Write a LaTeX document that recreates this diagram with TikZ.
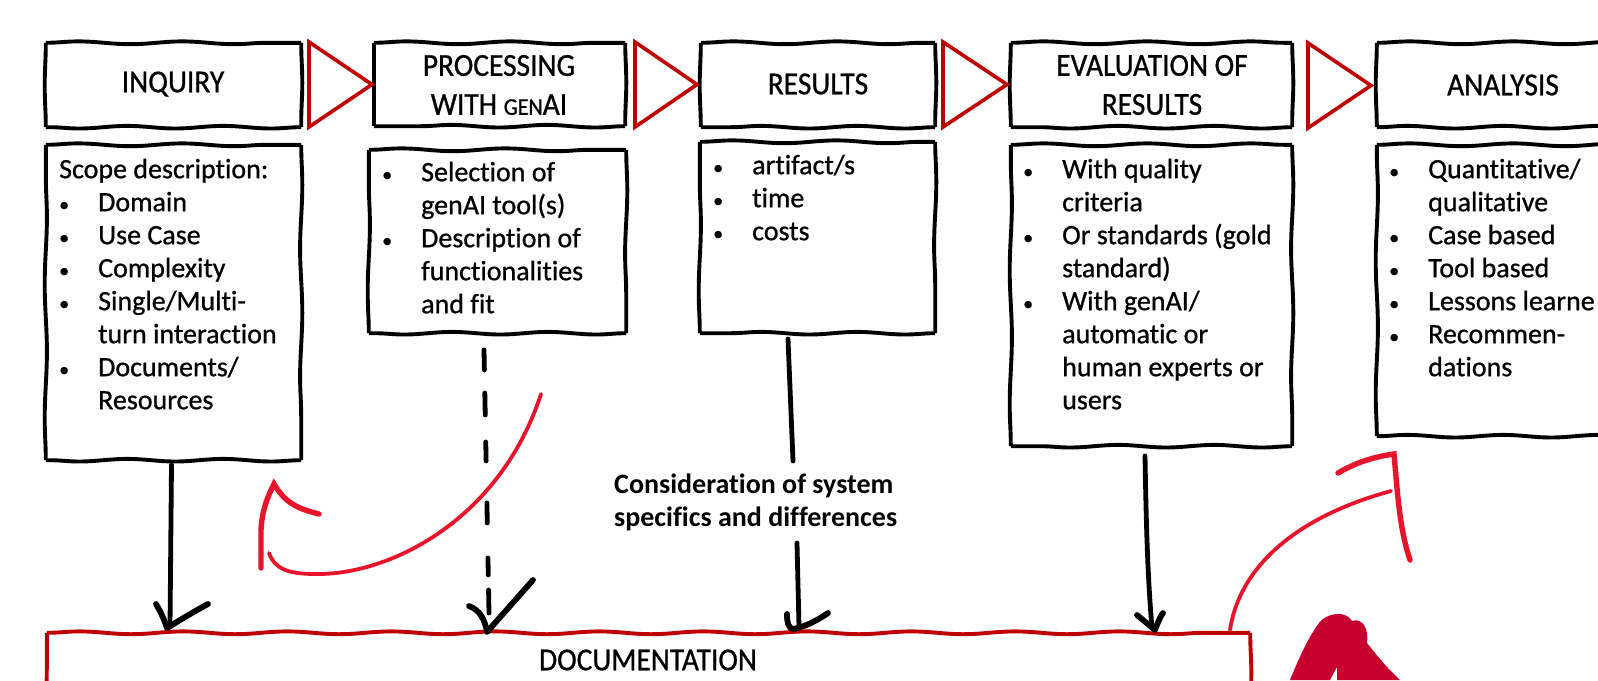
\documentclass[tikz,border=0pt]{standalone}
\usepackage{fontspec}
\usetikzlibrary{decorations.pathmorphing}
\setmainfont[FakeStretch=1.0,FakeBold=0.8,Ligatures=NoCommon]{Carlito}
\newfontfamily\headhand[FakeStretch=0.92,FakeBold=0.8,Ligatures=NoCommon]{Carlito}
\newfontfamily\boldhand[FakeStretch=1.0,Ligatures=NoCommon]{Carlito}
\definecolor{boxred}{HTML}{C00000}
\definecolor{curvered}{HTML}{E8142C}
\definecolor{blobred}{HTML}{C8002F}
\newcommand{\ft}{\rule{0pt}{20pt}}
\newcommand{\bl}[1]{\ft\makebox[39pt][l]{{\fontsize{20}{33}\selectfont •}}#1}
\newcommand{\cn}[1]{\ft\hspace*{39pt}#1}
\newcommand{\sketchbox}[2][black]{%
  \draw[sketchside,draw=#1,decoration={snake,segment length=104pt,amplitude=1.4pt}] (#2.north west) -- (#2.north east);
  \draw[sketchside,draw=#1,decoration={snake,segment length=128pt,amplitude=1.1pt}] (#2.north east) -- (#2.south east);
  \draw[sketchside,draw=#1,decoration={snake,segment length=96pt,amplitude=1.3pt}] (#2.south east) -- (#2.south west);
  \draw[sketchside,draw=#1,decoration={snake,segment length=134pt,amplitude=1.1pt}] (#2.south west) -- (#2.north west);}
\tikzset{x=1pt,y=-1pt,
  sketchside/.style={line width=3.9pt,line cap=square,decorate},
  head/.style={font=\headhand\fontsize{32}{39}\selectfont,align=center,text=black},
  body/.style={font=\fontsize{28}{33}\selectfont,align=left,anchor=north west,inner sep=0pt,text=black},
  tri/.style={draw=boxred,line width=3.6pt,miter limit=20,fill=white},
  flow/.style={line width=4.8pt,line cap=round,line join=round,draw=black},
  flowhead/.style={line width=5.8pt,line cap=round,line join=round,draw=black},
  backcurve/.style={line width=3.8pt,line cap=round,draw=curvered},
  backhead/.style={line width=5.4pt,line cap=round,line join=miter,draw=curvered}}
\begin{document}
\begin{tikzpicture}
\useasboundingbox (0,0) rectangle (1598,680);
% header boxes
\node[inner sep=0pt,minimum width=255pt,minimum height=84pt] (h1) at (173.5,85) {};
\node[inner sep=0pt,minimum width=251pt,minimum height=83pt] (h2) at (499.5,84.5) {};
\node[inner sep=0pt,minimum width=234pt,minimum height=84pt] (h3) at (818,85) {};
\node[inner sep=0pt,minimum width=281pt,minimum height=84pt] (h4) at (1151.5,85) {};
\node[inner sep=0pt,minimum width=300pt,minimum height=84pt] (h5) at (1527,85) {};
% detail boxes
\node[inner sep=0pt,minimum width=255pt,minimum height=315pt] (d1) at (173.5,302.5) {};
\node[inner sep=0pt,minimum width=257pt,minimum height=183pt] (d2) at (497.5,241.5) {};
\node[inner sep=0pt,minimum width=235pt,minimum height=191pt] (d3) at (817.5,237.5) {};
\node[inner sep=0pt,minimum width=281pt,minimum height=301pt] (d4) at (1151.5,295.5) {};
\node[inner sep=0pt,minimum width=300pt,minimum height=291pt] (d5) at (1527,290.5) {};
% documentation box
\node[inner sep=0pt,minimum width=1203pt,minimum height=120pt] (doc) at (648.5,693) {};
\foreach \n in {h1,h2,h3,h4,h5,d1,d2,d3,d4,d5} {\sketchbox{\n}}
\sketchbox[boxred]{doc}
% triangles
\path[tri] (309,42) -- (372,84.5) -- (309,127) -- cycle;
\path[tri] (635,42) -- (697,84.5) -- (635,127) -- cycle;
\path[tri] (943,42) -- (1007,84.5) -- (943,127) -- cycle;
\path[tri] (1308,43) -- (1371,85.5) -- (1308,128) -- cycle;
% header labels
\node[head] (t1) at (173,84) {INQUIRY};
\node[head] (t2) at (499,85) {PROCESSING\\WITH {\fontsize{24}{39}\selectfont GEN}AI};
\node[head] (t3) at (818,84) {RESULTS};
\node[head] (t4) at (1152,85) {EVALUATION OF\\RESULTS};
\node[head] (t5) at (1503,85) {ANALYSIS};
\node[head] (t6) at (648,660) {DOCUMENTATION};
% detail text
\node[body] (b1) at (59,158) {\ft Scope description:\\\bl{Domain}\\\bl{Use Case}\\\bl{Complexity}\\\bl{Single/Multi-}\\\cn{turn interaction}\\\bl{Documents/}\\\cn{Resources}};
\node[body] (b2) at (382,161) {\bl{Selection of}\\\cn{genAI tool(s)}\\\bl{Description of}\\\cn{functionalities}\\\cn{and fit}};
\node[body] (b3) at (713,154) {\bl{artifact/s}\\\bl{time}\\\bl{costs}};
\node[body] (b4) at (1023,158) {\bl{With quality}\\\cn{criteria}\\\bl{Or standards (gold}\\\cn{standard)}\\\bl{With genAI/}\\\cn{automatic or}\\\cn{human experts or}\\\cn{users}};
\node[body] (b5) at (1389,158) {\bl{Quantitative/}\\\cn{qualitative}\\\bl{Case based}\\\bl{Tool based}\\\bl{Lessons learne}\\\bl{Recommen-}\\\cn{dations}};
\node[body,font=\boldhand\bfseries\fontsize{28}{33}\selectfont] (cons) at (614,473) {\ft Consideration of system\\\ft specifics and differences};
% connector end points
\coordinate (a1s) at (171.5,465); \coordinate (a1e) at (170,627);
\coordinate (a1l) at (156,604); \coordinate (a1r) at (208,604);
\coordinate (a2s) at (484,350); \coordinate (a2e) at (489,613);
\coordinate (a2t) at (487,632); \coordinate (a2l) at (469,606); \coordinate (a2r) at (533,580);
\coordinate (a3s) at (788,339); \coordinate (a3m) at (793,461);
\coordinate (a3n) at (797,543); \coordinate (a3e) at (799,627);
\coordinate (a3l) at (787,614); \coordinate (a3t) at (793,629); \coordinate (a3r) at (828,613);
\coordinate (a4s) at (1145,456); \coordinate (a4e) at (1152,628);
\coordinate (a4l) at (1137,615); \coordinate (a4t) at (1155,630); \coordinate (a4r) at (1163,613);
% flow arrows
\draw[flow] (a1s) -- (a1e);
\draw[flowhead] (a1l) .. controls (162,614) and (165,622) .. (167,628) .. controls (180,620) and (195,611) .. (a1r);
\draw[flow,dash pattern=on 20pt off 23pt on 22pt off 27pt on 19pt off 42pt on 20pt off 35pt on 17pt off 15pt on 30pt off 100pt] (a2s) -- (a2e);
\draw[flowhead] (a2l) .. controls (480,610) and (485,620) .. (a2t) -- (a2r);
\draw[flow] (a3s) -- (a3m);
\draw[flow] (a3n) -- (a3e);
\draw[flowhead] (a3l) .. controls (787,622) and (788,628) .. (a3t) .. controls (805,627) and (818,620) .. (a3r);
\draw[flow] (a4s) .. controls (1146,510) and (1147,570) .. (a4e);
\draw[flowhead] (a4l) -- (a4t) .. controls (1158,622) and (1160,617) .. (a4r);
% red loop arrows
\coordinate (r1s) at (541,394); \coordinate (r1e) at (269,553);
\draw[backcurve] (r1s) .. controls (500,520) and (390,575) .. (316,574) .. controls (290,574) and (275,570) .. (r1e);
\coordinate (r1a) at (261,568); \coordinate (r1b) at (274,484); \coordinate (r1c) at (319,514);
\draw[backhead] (r1a) -- (261,530) .. controls (262,512) and (266,500) .. (r1b) .. controls (285,502) and (295,508) .. (r1c);
\coordinate (r2s) at (1230,630); \coordinate (r2e) at (1391,491);
\draw[backcurve] (r2s) .. controls (1238,575) and (1285,520) .. (r2e);
\coordinate (r2a) at (1338,473); \coordinate (r2b) at (1394,454); \coordinate (r2c) at (1410,560);
\draw[backhead] (r2a) .. controls (1360,460) and (1380,456) .. (r2b) .. controls (1398,500) and (1400,530) .. (r2c);
% blob at the bottom
\fill[blobred] (1290,680) .. controls (1300,655) and (1310,635) .. (1319,623) .. controls (1325,614) and (1345,609) .. (1352,621) .. controls (1360,618) and (1369,625) .. (1367,643) .. controls (1378,657) and (1388,669) .. (1400,680) -- (1337,680) -- (1337,667) -- (1330,680) -- cycle;
\end{tikzpicture}
\end{document}
